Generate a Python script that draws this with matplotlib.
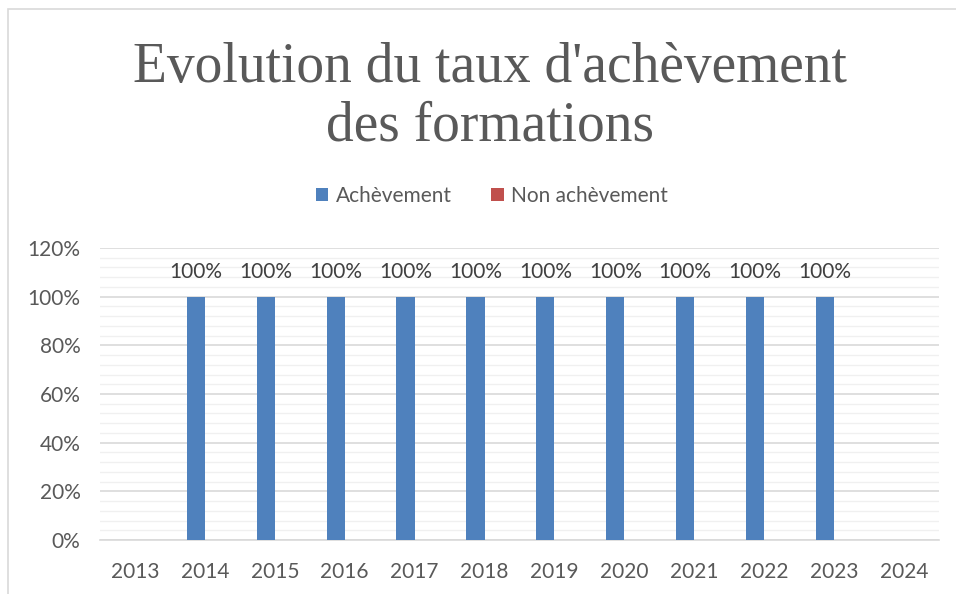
import matplotlib
matplotlib.use("Agg")
import matplotlib.pyplot as plt
from matplotlib.patches import Rectangle
from matplotlib.ticker import MultipleLocator, FuncFormatter
import numpy as np

years = ["2013", "2014", "2015", "2016", "2017", "2018", "2019", "2020", "2021", "2022", "2023", "2024"]
achevement = [np.nan, 100, 100, 100, 100, 100, 100, 100, 100, 100, 100, np.nan]
non_achevement = [np.nan, 0, 0, 0, 0, 0, 0, 0, 0, 0, 0, np.nan]
title = "Evolution du taux d'achèvement\ndes formations"

W, H = 956, 594
fig = plt.figure(figsize=(W / 100, H / 100), dpi=100)
fig.patch.set_facecolor("white")

# chart border
fig.patches.append(Rectangle((8 / W, -0.1), 1.2, 1 - 9 / H + 0.1, transform=fig.transFigure,
                             fill=False, edgecolor="#d9d9d9", linewidth=1.2))

ax = fig.add_axes([100 / W, 1 - 540 / H, (939 - 100) / W, (540 - 248) / H])
x = np.arange(len(years))
bw = 0.26
blue = "#4f81bd"
red = "#c0504d"
fs = 15
b1 = ax.bar(x - bw / 2, achevement, bw, color=blue, label="Achèvement", zorder=3)
b2 = ax.bar(x + bw / 2, non_achevement, bw, color=red, label="Non achèvement", zorder=3)

for xi, v in zip(x, achevement):
    if not np.isnan(v):
        ax.text(xi - bw / 2, v + 6.0, f"{int(v)}%", ha="center", va="bottom",
                fontsize=fs, color="#404040", family="Lato")

ax.set_xlim(-0.5, len(years) - 0.5)
ax.set_ylim(0, 120)
ax.yaxis.set_major_locator(MultipleLocator(20))
ax.yaxis.set_minor_locator(MultipleLocator(4))
ax.yaxis.set_major_formatter(FuncFormatter(lambda v, p: f"{int(v)}%"))
ax.grid(axis="y", which="major", color="#d9d9d9", linewidth=1.2, zorder=0)
ax.grid(axis="y", which="minor", color="#f0f0f0", linewidth=1.0, zorder=0)
ax.set_xticks(x)
ax.set_xticklabels(years)
for s in ["top", "right", "left"]:
    ax.spines[s].set_visible(False)
ax.spines["bottom"].set_color("#d9d9d9")
ax.spines["bottom"].set_linewidth(1.2)
ax.tick_params(axis="both", which="both", length=0, labelsize=fs, colors="#595959")
ax.tick_params(axis="x", pad=16)
ax.tick_params(axis="y", pad=14)
for lab in ax.get_xticklabels() + ax.get_yticklabels():
    lab.set_family("Lato")

fig.text(490 / W, 1 - 97 / H, title, ha="center", va="center", fontsize=40,
         color="#595959", family="Liberation Serif", linespacing=1.16)

leg = fig.legend(handles=[b1, b2], loc="center", bbox_to_anchor=(492 / W, 1 - 196 / H),
                 ncol=2, frameon=False, handlelength=0.6, handleheight=0.6,
                 handletextpad=0.35, columnspacing=1.9, prop={"family": "Lato", "size": fs})
for t in leg.get_texts():
    t.set_color("#595959")

fig.savefig("out.png", dpi=100)
